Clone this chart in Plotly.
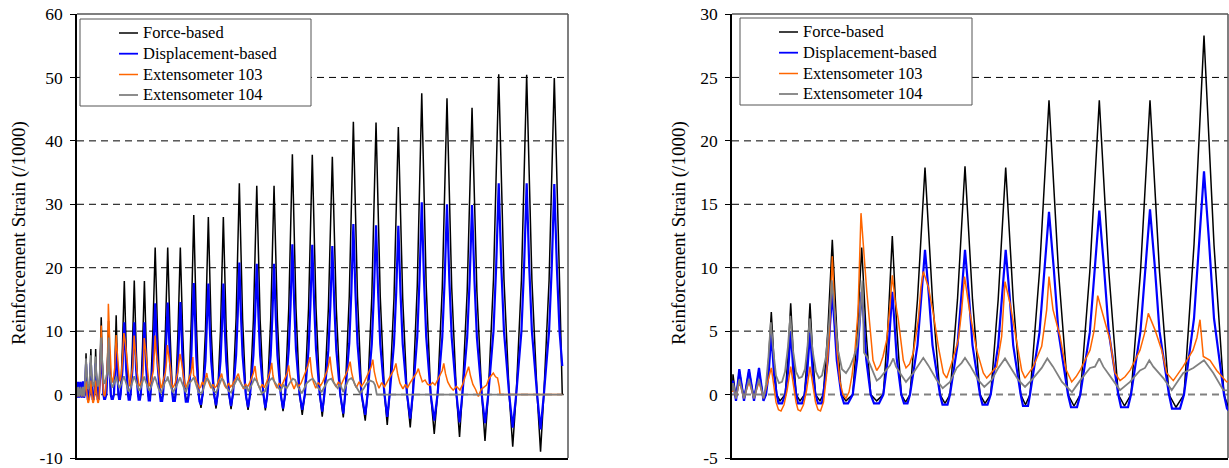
import plotly.graph_objects as go

W, H = 1229, 468

# ---------------- data (time in sample units, strain in /1000) ----------------
SERIES_NAMES = ["Force-based", "Displacement-based", "Extensometer 103", "Extensometer 104"]

FORCE_BASED = [
    [0.5, 0.3], [1, 1.6], [4, -0.4], [7.3, 1.9], [12, -0.4], [17, 1.9], [22, -0.4], [27, 1.9], [31.5, -0.4],
    [34, 0], [36.6, 2.7], [39.3, 6.5], [42, 2.7], [44.7, 0], [48, -0.5],
    [53.2, 0], [56, 3.0], [58.7, 7.2], [61.4, 3.0], [64.2, 0], [68, -0.5],
    [72.5, 0], [75.2, 3.0], [78, 7.2], [80.8, 3.0], [83.5, 0], [88, -0.5],
    [91.3, 0], [95.8, 5.0], [100.3, 12.2], [104.8, 5.0], [109.3, 0], [114, -0.5],
    [120.7, 0], [125.2, 4.8], [129.7, 11.6], [134.2, 4.8], [138.7, 0], [144.7, -0.5],
    [151.3, 0], [155.8, 5.2], [160.3, 12.5], [164.8, 5.2], [169.3, 0], [173.5, -0.6],
    [178, 0], [185.5, 7.5], [193, 17.9], [200.5, 7.5], [208, 0], [213, -0.7],
    [218, 0], [225.5, 7.5], [233, 18.0], [240.5, 7.5], [248, 0], [253, -0.7],
    [258.7, 0], [266.2, 7.5], [273.7, 17.9], [281.2, 7.5], [288.7, 0], [293.5, -0.8],
    [298, 0], [307.5, 9.7], [317, 23.2], [326.5, 9.7], [336, 0], [342, -0.9],
    [348.3, 0], [357.8, 9.7], [367.3, 23.2], [376.8, 9.7], [386.3, 0], [392.5, -0.9],
    [399, 0], [408.5, 9.7], [418, 23.2], [427.5, 9.7], [437, 0], [444, -1.0],
    [452, 0], [462, 11.8], [472, 28.3], [482, 11.8], [492, 0], [501, -2.1],
    [507.5, 0], [519, 10.1], [530.5, 28.0], [542, 10.1], [553.5, 0], [561.4, -2.2],
    [567.8, 0], [579.3, 10.1], [590.8, 28.0], [602.3, 10.1], [613.8, 0], [621.7, -2.3],
    [629, 0], [642, 12.0], [655, 33.3], [668, 12.0], [681, 0], [690, -2.4],
    [698, 0], [711.5, 11.8], [725, 32.9], [738.5, 11.8], [752, 0], [759.4, -2.5],
    [767.4, 0], [780.9, 11.8], [794.4, 32.9], [807.9, 11.8], [821.4, 0], [830.5, -2.6],
    [839, 0], [853.5, 13.6], [868, 37.9], [882.5, 13.6], [897, 0], [907.6, -3.2],
    [918, 0], [933, 13.6], [948, 37.8], [963, 13.6], [978, 0], [988, -3.5],
    [996.5, 0], [1012.5, 13.5], [1028.5, 37.5], [1044.5, 13.5], [1060.5, 0], [1072.5, -3.6],
    [1080, 0], [1096.5, 15.5], [1113, 43.0], [1129.5, 15.5], [1146, 0], [1160.6, -4.1],
    [1170, 0], [1187, 15.4], [1204, 42.9], [1221, 15.4], [1238, 0], [1249, -4.8],
    [1258.6, 0], [1276.1, 15.2], [1293.6, 42.2], [1311.1, 15.2], [1328.6, 0], [1341.4, -5.2],
    [1351.6, 0], [1369.6, 17.1], [1387.6, 47.5], [1405.6, 17.1], [1423.6, 0], [1437.8, -6.2],
    [1451, 0], [1470, 16.8], [1489, 46.7], [1508, 16.8], [1527, 0], [1539.4, -6.7],
    [1550.6, 0], [1570.1, 16.3], [1589.6, 45.2], [1609.1, 16.3], [1628.6, 0], [1641.6, -7.3],
    [1654.8, 0], [1675.8, 18.2], [1696.8, 50.5], [1717.8, 18.2], [1738.8, 0], [1753, -8.2],
    [1767, 0], [1788, 18.1], [1809, 50.4], [1830, 18.1], [1851, 0], [1864.7, -9.0],
    [1878, 0], [1899, 18.0], [1920, 49.9], [1941, 18.0], [1952, 2.5], [1952, 0],
]

DISPLACEMENT_BASED = [
    [0.5, 0.3], [1, 1.1], [4, -0.5], [7.3, 2.0], [12, -0.5], [17, 2.0], [22, -0.5], [27, 2.1], [31.5, -0.5],
    [34, 0], [36.6, 1.6], [38, 3.3], [39.3, 4.8], [40.6, 3.3], [42, 1.6], [44.7, 0], [46.5, -0.7], [50, -0.7],
    [53.2, 0], [56, 1.7], [57.3, 3.4], [58.7, 5.0], [60.1, 3.4], [61.4, 1.7], [64.2, 0], [66, -0.7], [70, -0.7],
    [72.5, 0], [75.2, 1.7], [76.6, 3.4], [78, 4.9], [79.4, 3.4], [80.8, 1.7], [83.5, 0], [86, -0.7], [90, -0.7],
    [91.3, 0], [95.8, 2.7], [98, 5.5], [100.3, 8.0], [102.5, 5.5], [104.8, 2.7], [109.3, 0], [112, -0.7], [116, -0.7],
    [120.7, 0], [125.2, 2.8], [127.5, 5.6], [129.7, 8.1], [132, 5.6], [134.2, 2.8], [138.7, 0], [142, -0.7], [147, -0.7],
    [151.3, 0], [155.8, 2.8], [158, 5.6], [160.3, 8.1], [162.5, 5.6], [164.8, 2.8], [169.3, 0], [172, -0.7], [175.5, -0.7],
    [178, 0], [185.5, 3.9], [189.3, 7.9], [193, 11.4], [196.8, 7.9], [200.5, 3.9], [208, 0], [210.5, -0.8], [215.5, -0.8],
    [218, 0], [225.5, 3.9], [229.3, 7.9], [233, 11.4], [236.8, 7.9], [240.5, 3.9], [248, 0], [250.5, -0.8], [255.5, -0.8],
    [258.7, 0], [266.2, 3.9], [270, 7.9], [273.7, 11.4], [277.5, 7.9], [281.2, 3.9], [288.7, 0], [291, -0.9], [296, -0.9],
    [298, 0], [307.5, 4.9], [312.2, 9.9], [317, 14.4], [321.8, 9.9], [326.5, 4.9], [336, 0], [339, -1.0], [345, -1.0],
    [348.3, 0], [357.8, 4.9], [362.5, 10.0], [367.3, 14.5], [372, 10.0], [376.8, 4.9], [386.3, 0], [389, -1.0], [396, -1.0],
    [399, 0], [408.5, 5.0], [413.2, 10.1], [418, 14.6], [422.8, 10.1], [427.5, 5.0], [437, 0], [440, -1.1], [448, -1.1],
    [452, 0], [462, 6.0], [467, 12.1], [472, 17.6], [477, 12.1], [482, 6.0], [492, 0], [495, -1.1], [501, -1.6],
    [507.5, 0], [519, 5.3], [524.8, 10.5], [530.5, 17.5], [536.3, 10.5], [542, 5.3], [553.5, 0], [561.4, -1.7],
    [567.8, 0], [579.3, 5.3], [585, 10.5], [590.8, 17.5], [596.5, 10.5], [602.3, 5.3], [613.8, 0], [621.7, -1.8],
    [629, 0], [642, 6.2], [648.5, 12.5], [655, 20.8], [661.5, 12.5], [668, 6.2], [681, 0], [690, -2.0],
    [698, 0], [711.5, 6.2], [718.3, 12.4], [725, 20.6], [731.8, 12.4], [738.5, 6.2], [752, 0], [759.4, -2.1],
    [767.4, 0], [780.9, 6.2], [787.7, 12.4], [794.4, 20.6], [801.2, 12.4], [807.9, 6.2], [821.4, 0], [830.5, -2.2],
    [839, 0], [853.5, 7.1], [860.8, 14.2], [868, 23.7], [875.3, 14.2], [882.5, 7.1], [897, 0], [907.6, -2.4],
    [918, 0], [933, 7.1], [940.5, 14.2], [948, 23.6], [955.5, 14.2], [963, 7.1], [978, 0], [988, -2.7],
    [996.5, 0], [1012.5, 7.0], [1020.5, 14.0], [1028.5, 23.4], [1036.5, 14.0], [1044.5, 7.0], [1060.5, 0], [1072.5, -3.0],
    [1080, 0], [1096.5, 8.1], [1104.8, 16.1], [1113, 26.9], [1121.3, 16.1], [1129.5, 8.1], [1146, 0], [1160.6, -3.2],
    [1170, 0], [1187, 8.0], [1195.5, 16.0], [1204, 26.7], [1212.5, 16.0], [1221, 8.0], [1238, 0], [1249, -3.5],
    [1258.6, 0], [1276.1, 8.0], [1284.9, 16.0], [1293.6, 26.6], [1302.4, 16.0], [1311.1, 8.0], [1328.6, 0], [1341.4, -3.8],
    [1351.6, 0], [1369.6, 9.1], [1378.6, 18.2], [1387.6, 30.3], [1396.6, 18.2], [1405.6, 9.1], [1423.6, 0], [1437.8, -4.1],
    [1451, 0], [1470, 9.0], [1479.5, 18.0], [1489, 30.0], [1498.5, 18.0], [1508, 9.0], [1527, 0], [1539.4, -4.4],
    [1550.6, 0], [1570.1, 9.0], [1579.9, 17.9], [1589.6, 29.9], [1599.4, 17.9], [1609.1, 9.0], [1628.6, 0], [1641.6, -4.5],
    [1654.8, 0], [1675.8, 10.0], [1686.3, 20.0], [1696.8, 33.3], [1707.3, 20.0], [1717.8, 10.0], [1738.8, 0], [1753, -5.2],
    [1767, 0], [1788, 10.0], [1798.5, 20.0], [1809, 33.3], [1819.5, 20.0], [1830, 10.0], [1851, 0], [1864.7, -5.5],
    [1878, 0], [1899, 10.0], [1909.5, 19.9], [1920, 33.2], [1930.5, 19.9], [1941, 10.0], [1952, 4.5],
]

EXTENSOMETER_103 = [
    [0.5, 0.2], [1, 0.8], [4, -0.3], [7.3, 1.0], [12, -0.3], [17, 1.0], [22, -0.3], [27, 1.0], [31.5, -0.3],
    [33, 0.2], [36, 1.0], [39.3, 2.1], [42, 0.6], [44, -0.6], [46.5, -1.2], [49, -1.3], [52, -0.8], [55, 0.3], [58.7, 2.2],
    [61.5, 0.6], [64, -0.6], [66, -1.2], [68.5, -1.3], [71.5, -0.8], [74.5, 0.3], [78, 2.2],
    [81, 0.6], [83.5, -0.6], [86, -1.2], [88.5, -1.3], [91.5, -0.6], [94.5, 1.5], [97.5, 5.0], [100.3, 10.9],
    [102.5, 7.0], [105, 3.5], [108, 1.0], [111, 0.0], [114, -0.3], [117, 0.2], [120, 1.5], [123, 3.5], [126, 6.5], [129, 14.3],
    [134.7, 8.2], [139, 4.0], [141, 2.7], [144.7, 1.9], [148, 2.3], [151, 3.0], [154.7, 4.3], [158, 7.0], [160.3, 9.4],
    [163, 7.5], [166.3, 5.9], [171.3, 2.7], [174, 2.1], [177.5, 2.4], [181.3, 3.3], [186.3, 5.9], [189, 8.5], [191.3, 9.7],
    [196.3, 8.5], [201.3, 6.4], [206.3, 3.8], [211.3, 1.7], [214.7, 1.3], [219.7, 2.5], [226.3, 4.3], [229.5, 6.5], [232.5, 9.3],
    [235, 8.0], [238, 6.4], [244.7, 3.5], [251.3, 1.7], [254.7, 1.3], [260, 1.8], [264.7, 2.2], [269.7, 4.6], [273, 8.9],
    [278, 7.2], [284.7, 4.3], [289.7, 1.9], [293, 1.3], [297, 1.7], [301.3, 2.2], [309.7, 3.8], [314.7, 6.7], [317, 9.3],
    [321, 6.7], [328, 4.6], [334, 2.0], [339.7, 1.0], [344, 1.4], [348, 1.9], [358, 3.5], [362, 5.0], [365.7, 7.8],
    [369.7, 6.65], [378, 4.3], [383, 1.7], [388, 1.1], [393, 1.4], [398, 1.9], [408, 3.5], [412.5, 4.8], [416.3, 6.4],
    [423, 5.1], [429.7, 3.5], [434.7, 1.7], [441.3, 1.1], [446, 1.6], [451, 2.2], [461, 3.5], [465, 4.5], [468, 5.9],
    [471.3, 3.0], [478, 2.7], [484.7, 1.9], [494.7, 1.0],
    [500, 1.2], [506, 2.0], [512, 1.5], [518, 2.4], [524, 3.4], [529, 2.2], [535, 1.5], [541, 1.0], [549, 1.6], [556, 1.1],
    [563, 1.3], [570, 2.0], [577, 2.6], [584, 3.3], [589, 2.2], [596, 1.4], [603, 1.0], [612, 1.8], [620, 1.2], [628, 1.6],
    [636, 2.2], [644, 2.8], [651, 3.3], [657, 2.3], [664, 1.5], [672, 0.9], [680, 1.7], [688, 1.2], [696, 1.8], [704, 2.5],
    [711, 3.3], [718, 4.5], [723, 2.8], [730, 1.6], [738, 0.9], [747, 1.6], [755, 1.1], [763, 1.8], [771, 2.6], [778, 3.5],
    [785, 5.0], [790, 3.0], [797, 1.8], [806, 1.0], [815, 1.8], [823, 1.3], [832, 2.0], [840, 2.8], [847, 3.4], [853, 4.6],
    [858, 3.0], [866, 1.8], [875, 0.9], [885, 1.9], [894, 1.3], [903, 1.8], [912, 2.7], [921, 3.6], [930, 4.5], [939, 5.9],
    [945, 3.5], [952, 2.0], [962, 1.0], [972, 1.9], [981, 1.4], [990, 2.0], [999, 2.8], [1008, 3.8], [1013, 4.6], [1019, 6.0],
    [1025, 3.8], [1033, 2.1], [1043, 1.2], [1053, 2.0], [1062, 1.4], [1072, 2.2], [1081, 3.0], [1090, 3.8], [1100, 5.2],
    [1106, 3.5], [1115, 2.0], [1125, 1.1], [1136, 2.0], [1146, 1.3], [1157, 2.0], [1167, 2.8], [1177, 3.6], [1184, 4.3],
    [1191, 5.5], [1197, 3.6], [1206, 2.0], [1216, 1.0], [1227, 1.9], [1238, 1.2], [1249, 2.0], [1259, 2.8], [1270, 3.6],
    [1277, 4.0], [1284, 4.9], [1291, 3.2], [1300, 1.8], [1312, 0.9], [1322, 1.6], [1330, 1.0], [1340, 1.8], [1350, 2.5],
    [1360, 3.0], [1367, 3.4], [1374, 4.1], [1380, 3.2], [1390, 2.0], [1401, 2.3], [1411, 1.6], [1421, 1.5], [1431, 1.9],
    [1441, 1.5], [1452, 2.4], [1462, 3.2], [1470, 3.8], [1476, 4.9], [1483, 3.3], [1492, 2.0], [1503, 1.2], [1514, 0.7],
    [1527, 1.3], [1541, 0.7], [1552, 1.6], [1562, 2.8], [1570, 3.6], [1576, 4.4], [1583, 3.0], [1593, 1.6], [1604, 0.8],
    [1615, -0.3], [1626, 0.8], [1637, 1.2], [1648, 1.5], [1657, 2.5], [1666, 3.0], [1675, 3.4], [1684, 2.8], [1692, 2.6],
    [1699, 1.2], [1702, 0.2], [1702, 0], [1952, 0],
]

EXTENSOMETER_104 = [
    [0.5, 0.3], [1, 0.9], [4, -0.3], [7.3, 1.2], [12, -0.3], [17, 1.2], [22, -0.3], [27, 1.2], [31.5, -0.3],
    [34, 0.8], [36.5, 3.0], [38.8, 5.7], [41.5, 3.3], [44, 1.5], [47, 0.9], [50, 1.0], [53, 1.8], [56, 3.8], [58.3, 6.2],
    [61, 3.5], [64, 1.8], [67, 1.3], [70, 1.4], [73, 2.0], [75.5, 3.8], [77.7, 6.0],
    [80.5, 3.5], [84, 1.8], [87, 1.3], [90, 1.5], [94, 3.0], [97, 5.5], [99.8, 9.0],
    [103, 6.0], [106, 3.5], [110, 2.0], [114, 1.7], [118, 2.2], [122, 3.0], [125, 3.8], [128, 6.0], [130.5, 9.0],
    [132, 3.3], [134.7, 3.0], [141.3, 1.7], [144.7, 1.1], [148, 1.3], [151, 1.6], [154.7, 1.9], [158, 2.3], [161.3, 2.85],
    [164, 2.2], [168, 1.7], [174, 1.0], [181.3, 1.7], [186.3, 2.3], [191.3, 2.9],
    [196.3, 2.3], [204.7, 1.15], [210.7, 0.5], [218, 1.0], [224.7, 2.1], [229.7, 2.5], [233, 2.9],
    [238, 2.3], [246.3, 1.15], [252.3, 0.6], [259.7, 1.15], [266.3, 2.1], [273, 2.85],
    [278, 2.2], [286.3, 1.15], [293, 0.6], [301.3, 1.3], [309.7, 2.1], [315.3, 2.85],
    [321, 2.2], [330, 1.0], [340, 0.2], [348, 1.1], [358, 2.1], [363, 2.2], [367.3, 2.85],
    [371.3, 2.2], [381.3, 1.1], [388, 0.35], [398, 1.0], [408, 1.9], [413, 2.1], [417.3, 2.7],
    [421.3, 2.2], [431.3, 1.3], [439.7, 0.35], [451.3, 1.7], [461.3, 2.1], [472, 2.7],
    [481.3, 1.7], [491.3, 0.35],
    [505, 0.3], [515, 1.5], [525, 2.6], [531, 2.3], [540, 1.5], [552, 0.6], [562, 0.3], [572, 1.3], [584, 2.5], [591, 2.3],
    [600, 1.4], [612, 0.6], [622, 0.3], [633, 1.4], [648, 2.6], [655, 2.2], [666, 1.4], [678, 1.0], [685, 1.25], [692, 0.5],
    [702, 1.3], [716, 2.5], [725, 2.1], [735, 1.2], [745, 0.2], [758, 0.5], [770, 1.8], [778, 2.3], [787, 2.6], [795, 2.1],
    [808, 1.3], [820, 0.6], [832, 1.5], [845, 1.0], [860, 2.0], [870, 2.5], [879, 2.3], [890, 1.2], [906, 0.2], [926, 1.8],
    [940, 2.3], [950, 2.5], [959, 2.0], [972, 1.0], [986, 0.45], [1000, 1.5], [1012, 2.3], [1025, 2.5], [1035, 1.8],
    [1050, 1.0], [1060, 1.6], [1072, 0.4], [1082, 1.3], [1093, 2.3], [1105, 2.6], [1113, 2.2], [1120, 1.5], [1140, 0.2],
    [1155, 1.0], [1167, 1.8], [1180, 2.2], [1193, 2.0], [1200, 1.5], [1207, 0.2], [1207, 0], [1952, 0],
]

LEFT_TICKS = [-10, 0, 10, 20, 30, 40, 50, 60]
LEFT_TICK_TEXT = ["-10", "0", "10", "20", "30", "40", "50", "60"]
RIGHT_TICKS = [-5, 0, 5, 10, 15, 20, 25, 30]
RIGHT_TICK_TEXT = ["-5", "0", "5", "10", "15", "20", "25", "30"]
LEFT_GRID = [0, 10, 20, 30, 40, 50]
RIGHT_GRID = [0, 5, 10, 15, 20, 25]
Y_TITLE = "Reinforcement Strain (/1000)"

# ---------------- figure ----------------
FONT = "Liberation Serif, Times New Roman, DejaVu Serif, serif"
colors = ["#000000", "#0000FF", "#FF6600", "#808080"]
widths = [1.5, 2.2, 1.5, 1.8]
data = [FORCE_BASED, DISPLACEMENT_BASED, EXTENSOMETER_103, EXTENSOMETER_104]

fig = go.Figure()
for name, pts, c, w in zip(SERIES_NAMES, data, colors, widths):
    xs = [p[0] for p in pts]
    ys = [p[1] for p in pts]
    for xa, ya in (("x", "y"), ("x2", "y2")):
        fig.add_trace(go.Scatter(x=xs, y=ys, mode="lines", name=name, line=dict(color=c, width=w),
                                 xaxis=xa, yaxis=ya, showlegend=False, hoverinfo="skip"))

ydom = [1 - 458 / H, 1 - 14 / H]
common_y = dict(ticks="outside", ticklen=5, tickcolor="black", tickwidth=1, showline=True,
                linecolor="black", linewidth=1.5, showgrid=False, zeroline=False, automargin=False,
                tickfont=dict(family=FONT, size=17.5, color="black"), ticklabelstandoff=4,
                ticklabeloverflow="allow")
common_x = dict(showticklabels=False, ticks="", showgrid=False, zeroline=False, showline=True,
                linecolor="black", linewidth=1.5, automargin=False)

shapes = []
annotations = []
for xr, yr, grid in (("x", "y", LEFT_GRID), ("x2", "y2", RIGHT_GRID)):
    for g in grid:
        if g == 0:
            line = dict(color="#808080" if xr == "x2" else "#555555", width=2 if xr == "x2" else 1.5, dash="7px,5px")
        else:
            line = dict(color="black", width=1, dash="7px,5px")
        shapes.append(dict(type="line", xref=f"{xr} domain", yref=yr, x0=0, x1=1, y0=g, y1=g,
                           line=line, layer="below"))
    # plot-area border (top and right)
    shapes.append(dict(type="line", xref=f"{xr} domain", yref=f"{yr} domain", x0=0, x1=1, y0=1, y1=1,
                       line=dict(color="#555555", width=1.5), layer="below"))
    shapes.append(dict(type="line", xref=f"{xr} domain", yref=f"{yr} domain", x0=1, x1=1, y0=0, y1=1,
                       line=dict(color="#555555", width=1.5), layer="below"))

# legend boxes with line samples and labels (one per panel)
LEGEND_BOXES = [(80, 311, 19, 106), (740, 972, 18, 105)]
ROW_Y = [33, 53.7, 74.5, 95]
for (x0, x1, y0, y1) in LEGEND_BOXES:
    shapes.append(dict(type="rect", xref="paper", yref="paper", x0=x0 / W, x1=x1 / W,
                       y0=1 - y1 / H, y1=1 - y0 / H, fillcolor="white",
                       line=dict(color="#555555", width=1), layer="above"))
    for i, (name, c, w) in enumerate(zip(SERIES_NAMES, colors, widths)):
        yy = 1 - (y0 - 19 + ROW_Y[i]) / H
        shapes.append(dict(type="line", xref="paper", yref="paper", x0=(x0 + 39) / W, x1=(x0 + 58) / W,
                           y0=yy, y1=yy, line=dict(color=c, width=min(w, 1.8)), layer="above"))
        annotations.append(dict(text=name, xref="paper", yref="paper", x=(x0 + 61) / W, y=yy,
                                xanchor="left", yanchor="middle", showarrow=False,
                                font=dict(family=FONT, size=16.5, color="black")))

for tx in (19, 679):
    annotations.append(dict(text=Y_TITLE, xref="paper", yref="paper", x=tx / W, y=1 - 233 / H, showarrow=False,
                            textangle=-90, font=dict(family=FONT, size=19, color="black"),
                            xanchor="center", yanchor="middle"))

fig.update_layout(
    width=W, height=H, autosize=False,
    margin=dict(l=0, r=0, t=0, b=0, pad=0, autoexpand=False),
    paper_bgcolor="white", plot_bgcolor="white",
    xaxis=dict(domain=[77 / W, 568 / W], range=[3, 1975], anchor="y", **common_x),
    yaxis=dict(domain=ydom, range=[-10, 60], tickvals=LEFT_TICKS, ticktext=LEFT_TICK_TEXT,
               anchor="x", **common_y),
    xaxis2=dict(domain=[732 / W, 1228 / W], range=[0, 496], anchor="y2", **common_x),
    yaxis2=dict(domain=ydom, range=[-5, 30], tickvals=RIGHT_TICKS, ticktext=RIGHT_TICK_TEXT,
                anchor="x2", **common_y),
    shapes=shapes,
    annotations=annotations,
    showlegend=False,
)

fig.write_html("out.html", config={"responsive": False, "displayModeBar": False},
               post_script="document.body.style.margin='0px';document.body.style.overflow='hidden';")
